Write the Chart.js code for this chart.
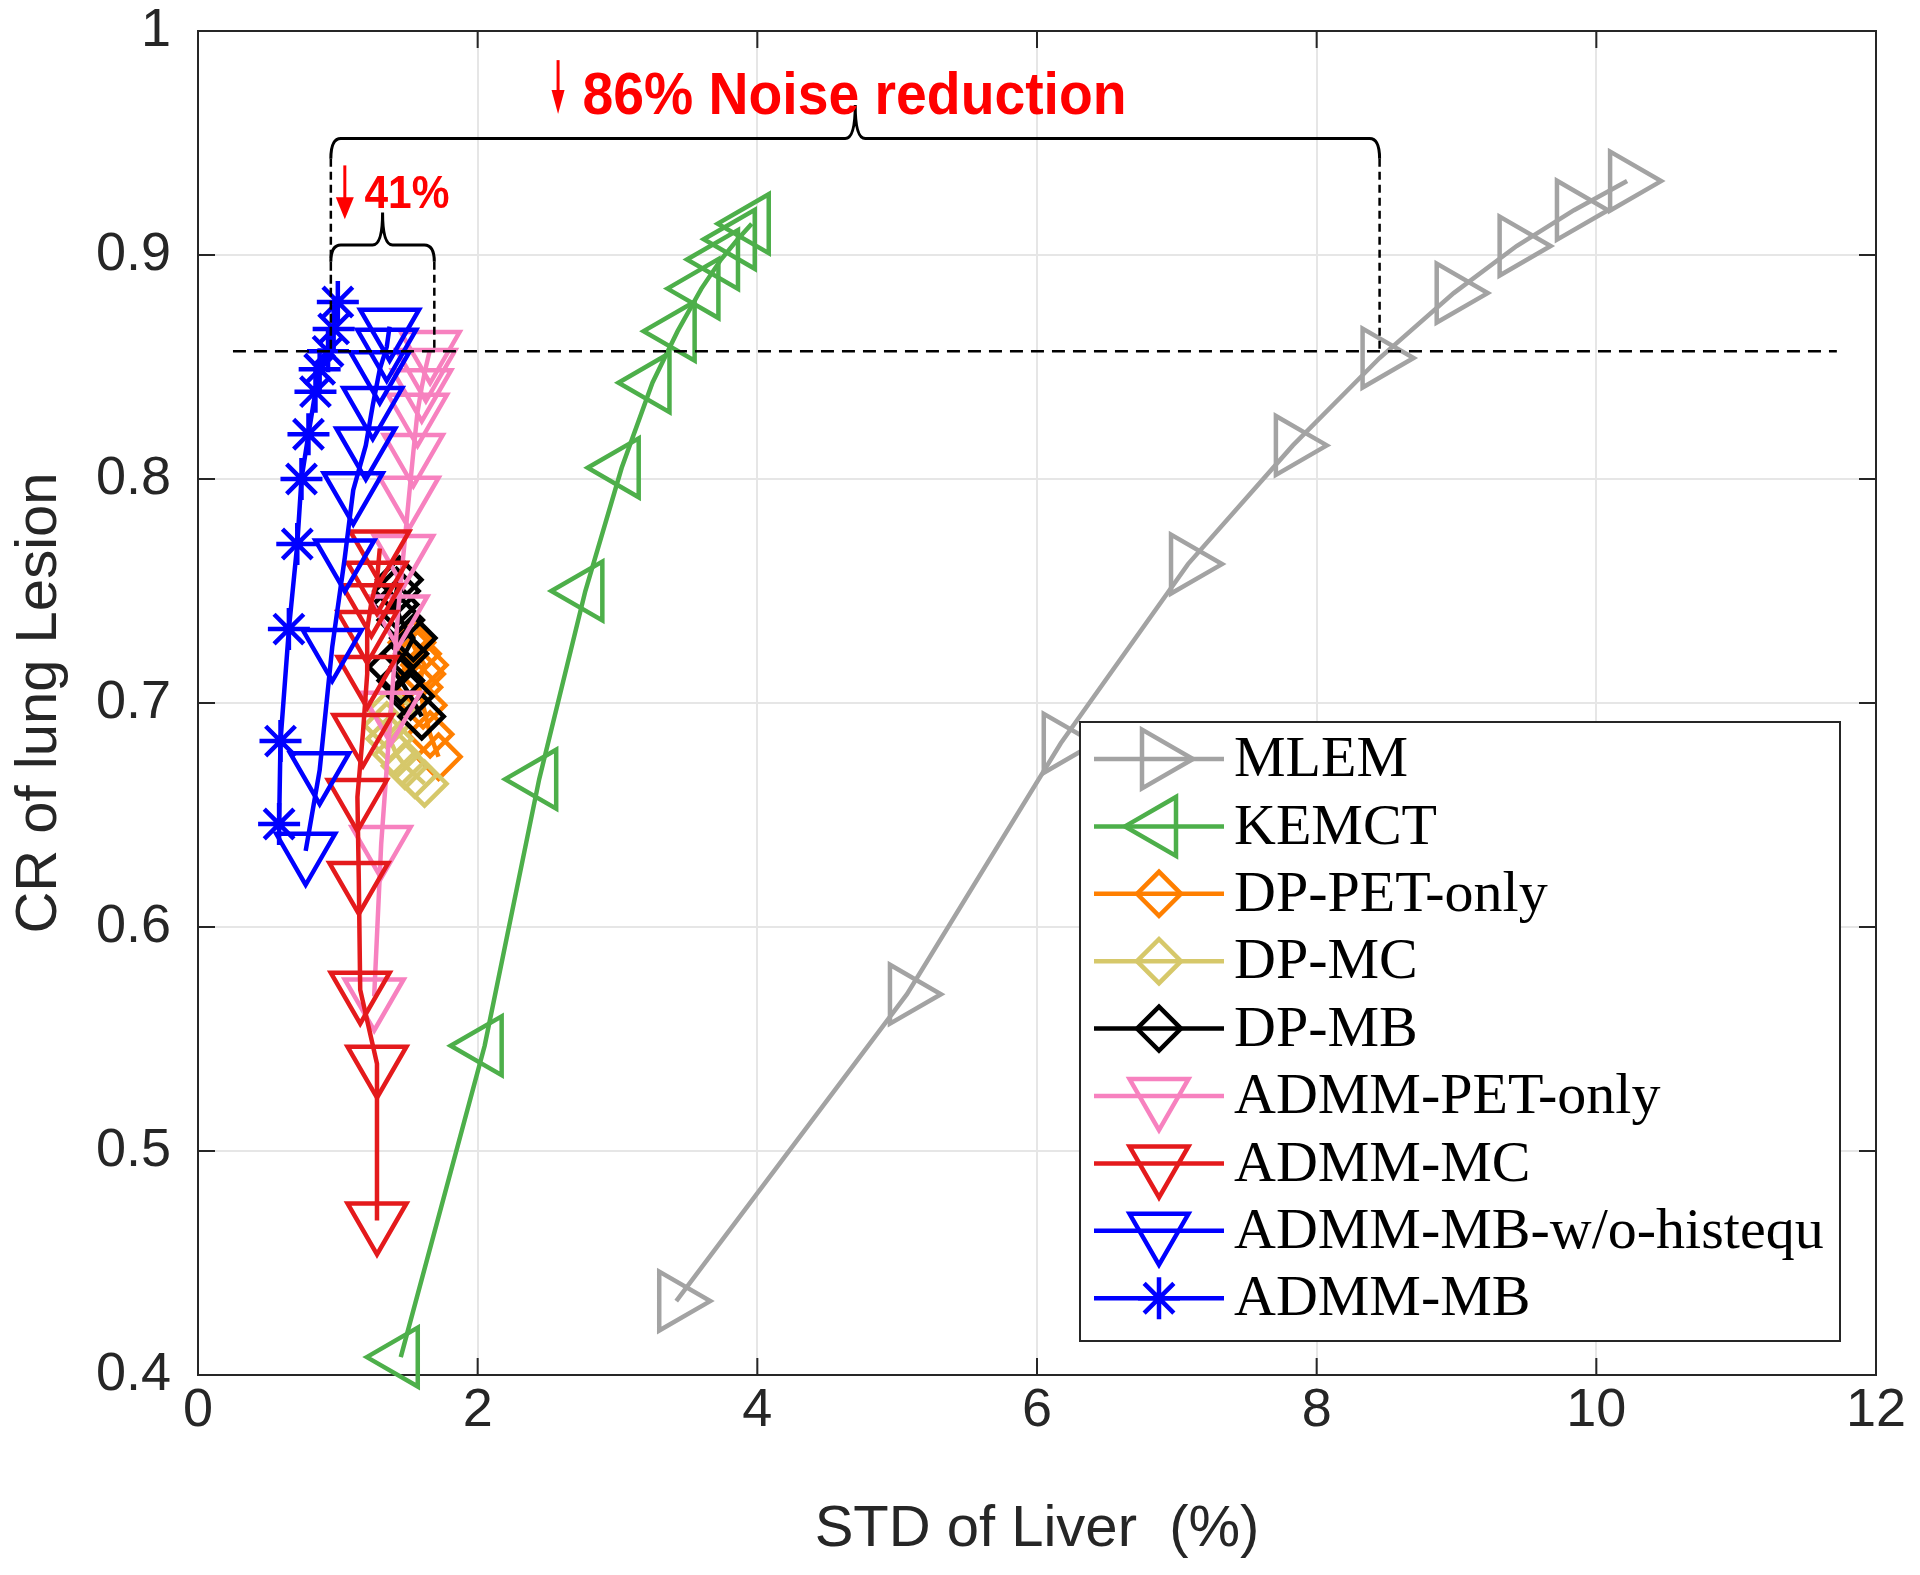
<!DOCTYPE html>
<html>
<head>
<meta charset="utf-8">
<script src="https://cdn.jsdelivr.net/npm/chart.js@4.4.1/dist/chart.umd.min.js"></script>
<style>
  html, body { margin: 0; padding: 0; background: #fff; }
  canvas { display: block; }
</style>
</head>
<body>
<canvas id="chart" width="1920" height="1575"></canvas>
<script>
// Axis ticks
const xTicks = [0, 2, 4, 6, 8, 10, 12];
const yTicks = [0.4, 0.5, 0.6, 0.7, 0.8, 0.9, 1];

// Series values (x = STD of liver %, y = CR of lung lesion)
const mlemX = [3.42, 5.07, 6.17, 7.08, 7.83, 8.45, 8.98, 9.43, 9.84, 10.22];
const mlemY = [0.433, 0.570, 0.682, 0.762, 0.815, 0.854, 0.883, 0.904, 0.920, 0.933];

const kemctX = [1.45, 2.05, 2.44, 2.77, 3.03, 3.25, 3.43, 3.60, 3.74, 3.86, 3.96];
const kemctY = [0.408, 0.547, 0.666, 0.750, 0.805, 0.843, 0.866, 0.885, 0.898, 0.907, 0.914];

const dpPetX = [1.72, 1.66, 1.61, 1.58, 1.60, 1.62, 1.57, 1.53];
const dpPetY = [0.676, 0.686, 0.699, 0.707, 0.713, 0.717, 0.722, 0.727];

const dpMcX = [1.62, 1.55, 1.48, 1.42, 1.37, 1.35, 1.38];
const dpMcY = [0.664, 0.668, 0.672, 0.677, 0.684, 0.690, 0.697];

const dpMbX = [1.60, 1.52, 1.45, 1.38, 1.48, 1.54, 1.45, 1.41, 1.42, 1.44];
const dpMbY = [0.694, 0.703, 0.710, 0.716, 0.722, 0.729, 0.737, 0.744, 0.750, 0.755];

const admmPetX = [1.26, 1.31, 1.38, 1.43, 1.47, 1.51, 1.54, 1.57, 1.60, 1.63, 1.66];
const admmPetY = [0.569, 0.637, 0.697, 0.740, 0.767, 0.793, 0.812, 0.830, 0.841, 0.850, 0.858];

const admmMcX = [1.28, 1.28, 1.16, 1.15, 1.14, 1.18, 1.21, 1.21, 1.24, 1.28, 1.30];
const admmMcY = [0.469, 0.539, 0.572, 0.621, 0.658, 0.687, 0.713, 0.733, 0.745, 0.755, 0.769];

const admmMbNoHistX = [0.77, 0.87, 0.96, 1.05, 1.11, 1.20, 1.25, 1.30, 1.35, 1.37];
const admmMbNoHistY = [0.634, 0.670, 0.725, 0.765, 0.795, 0.815, 0.833, 0.849, 0.859, 0.868];

const admmMbX = [0.58, 0.59, 0.65, 0.71, 0.74, 0.79, 0.84, 0.87, 0.93, 0.97, 1.00];
const admmMbY = [0.646, 0.683, 0.733, 0.771, 0.800, 0.820, 0.839, 0.849, 0.857, 0.867, 0.879];

// Annotation geometry in data units
const refLevel = 0.857;
const refLineX = [0.25, 11.72];
const bigBrace = { x0: 0.95, x1: 8.45, mid: 4.70, yLine: 0.952, yTip: 0.967, yHook: 0.943 };
const smallBrace = { x0: 0.95, x1: 1.69, mid: 1.32, yLine: 0.9045, yTip: 0.919, yHook: 0.897 };

const series = [
    { name: 'MLEM', xs: mlemX, ys: mlemY, color: '#a3a3a3', marker: 'triangle', rot: 90, r: 34 },
    { name: 'KEMCT', xs: kemctX, ys: kemctY, color: '#4daf4a', marker: 'triangle', rot: 270, r: 34 },
    { name: 'DP-PET-only', xs: dpPetX, ys: dpPetY, color: '#ff7f00', marker: 'rectRot', rot: 0, r: 22 },
    { name: 'DP-MC', xs: dpMcX, ys: dpMcY, color: '#d6c86a', marker: 'rectRot', rot: 0, r: 22 },
    { name: 'DP-MB', xs: dpMbX, ys: dpMbY, color: '#000000', marker: 'rectRot', rot: 0, r: 22 },
    { name: 'ADMM-PET-only', xs: admmPetX, ys: admmPetY, color: '#f781bf', marker: 'triangle', rot: 180, r: 34 },
    { name: 'ADMM-MC', xs: admmMcX, ys: admmMcY, color: '#e41a1c', marker: 'triangle', rot: 180, r: 34 },
    { name: 'ADMM-MB-w/o-histequ', xs: admmMbNoHistX, ys: admmMbNoHistY, color: '#0000ff', marker: 'triangle', rot: 180, r: 34 },
    { name: 'ADMM-MB', xs: admmMbX, ys: admmMbY, color: '#0000ff', marker: 'star', rot: 0, r: 21 },
];

const LINE_W = 4.5;
const AXIS_COLOR = '#262626';
const SANS = '"Liberation Sans", Arial, sans-serif';

const datasets = series.map((s, i) => ({
    label: s.name,
    data: s.xs.map((x, k) => ({ x: x, y: s.ys[k] })),
    showLine: true,
    borderColor: s.color,
    backgroundColor: 'rgba(0,0,0,0)',
    borderWidth: LINE_W,
    pointStyle: s.marker,
    pointRotation: s.rot,
    pointRadius: s.r,
    pointBorderWidth: LINE_W,
    pointBorderColor: s.color,
    pointBackgroundColor: 'rgba(0,0,0,0)',
    tension: 0,
    clip: false,
    order: series.length - i, // later series on top, like MATLAB
}));

// Box frame and inward ticks
const axesFrame = {
    id: 'axesFrame',
    beforeDatasetsDraw(chart) {
        const { ctx, chartArea: a, scales: { x, y } } = chart;
        const tl = 17;
        ctx.save();
        ctx.strokeStyle = AXIS_COLOR;
        ctx.lineWidth = 2;
        ctx.strokeRect(a.left, a.top, a.right - a.left, a.bottom - a.top);
        ctx.beginPath();
        xTicks.forEach((v) => {
            const px = x.getPixelForValue(v);
            ctx.moveTo(px, a.bottom); ctx.lineTo(px, a.bottom - tl);
            ctx.moveTo(px, a.top); ctx.lineTo(px, a.top + tl);
        });
        yTicks.forEach((v) => {
            const py = y.getPixelForValue(v);
            ctx.moveTo(a.left, py); ctx.lineTo(a.left + tl, py);
            ctx.moveTo(a.right, py); ctx.lineTo(a.right - tl, py);
        });
        ctx.stroke();
        ctx.restore();
    }
};

function drawBrace(ctx, x, y, b) {
    const x0 = x.getPixelForValue(b.x0);
    const x1 = x.getPixelForValue(b.x1);
    const xm = x.getPixelForValue(b.mid);
    const yl = y.getPixelForValue(b.yLine);
    const yt = y.getPixelForValue(b.yTip);
    const yh = y.getPixelForValue(b.yHook);
    const r = 10;
    ctx.beginPath();
    ctx.moveTo(x0, yh);
    ctx.quadraticCurveTo(x0, yl, x0 + r, yl);
    ctx.lineTo(xm - r, yl);
    ctx.quadraticCurveTo(xm, yl, xm, yt);
    ctx.quadraticCurveTo(xm, yl, xm + r, yl);
    ctx.lineTo(x1 - r, yl);
    ctx.quadraticCurveTo(x1, yl, x1, yh);
    ctx.stroke();
}

function drawArrow(ctx, px, yTop, yBot, head) {
    ctx.beginPath();
    ctx.moveTo(px, yTop);
    ctx.lineTo(px, yBot - head.h + 2);
    ctx.stroke();
    ctx.beginPath();
    ctx.moveTo(px - head.w / 2, yBot - head.h);
    ctx.lineTo(px + head.w / 2, yBot - head.h);
    ctx.lineTo(px, yBot);
    ctx.closePath();
    ctx.fill();
}

// Reference level, braces and noise reduction labels
const annotations = {
    id: 'annotations',
    afterDatasetsDraw(chart) {
        const { ctx, scales: { x, y } } = chart;
        const yRef = y.getPixelForValue(refLevel);
        ctx.save();
        ctx.strokeStyle = '#000';
        ctx.lineWidth = 2.5;
        ctx.setLineDash([13, 8]);
        ctx.beginPath();
        ctx.moveTo(x.getPixelForValue(refLineX[0]), yRef);
        ctx.lineTo(x.getPixelForValue(refLineX[1]), yRef);
        ctx.stroke();

        ctx.setLineDash([8, 5]);
        ctx.beginPath();
        [bigBrace, smallBrace].forEach((b) => {
            [b.x0, b.x1].forEach((xv) => {
                const px = x.getPixelForValue(xv);
                ctx.moveTo(px, y.getPixelForValue(b.yHook));
                ctx.lineTo(px, yRef);
            });
        });
        ctx.stroke();
        ctx.setLineDash([]);

        ctx.lineWidth = 3;
        drawBrace(ctx, x, y, bigBrace);
        drawBrace(ctx, x, y, smallBrace);

        // red labels
        ctx.fillStyle = '#ff0000';
        ctx.strokeStyle = '#ff0000';
        ctx.lineWidth = 3;
        drawArrow(ctx, x.getPixelForValue(2.575), y.getPixelForValue(0.987), y.getPixelForValue(0.963), { w: 13, h: 24 });
        drawArrow(ctx, x.getPixelForValue(1.05), y.getPixelForValue(0.940), y.getPixelForValue(0.916), { w: 18, h: 22 });

        ctx.textAlign = 'left';
        ctx.textBaseline = 'alphabetic';
        ctx.font = 'bold 60px ' + SANS;
        ctx.fillText('86% Noise reduction', x.getPixelForValue(2.75), y.getPixelForValue(0.963), 544);
        ctx.font = 'bold 46px ' + SANS;
        ctx.fillText('41%', x.getPixelForValue(1.19), y.getPixelForValue(0.921), 85);
        ctx.restore();
    }
};

// Legend box inside the axes (lower right)
const boxLegend = {
    id: 'boxLegend',
    afterDraw(chart) {
        const ctx = chart.ctx;
        const box = { left: 1080, top: 722, width: 760, height: 619 };
        const rowTop = 759;
        const rowStep = 67.4;
        ctx.save();
        ctx.fillStyle = '#ffffff';
        ctx.fillRect(box.left, box.top, box.width, box.height);
        ctx.strokeStyle = AXIS_COLOR;
        ctx.lineWidth = 2;
        ctx.strokeRect(box.left, box.top, box.width, box.height);

        series.forEach((s, i) => {
            const cy = rowTop + i * rowStep;
            ctx.strokeStyle = s.color;
            ctx.fillStyle = 'rgba(0,0,0,0)';
            ctx.lineWidth = LINE_W;
            ctx.beginPath();
            ctx.moveTo(1094, cy);
            ctx.lineTo(1224, cy);
            ctx.stroke();
            Chart.helpers.drawPoint(ctx, {
                pointStyle: s.marker,
                rotation: s.rot,
                radius: s.r,
                borderWidth: LINE_W,
            }, 1159, cy);

            ctx.fillStyle = '#000';
            ctx.font = '58px "Liberation Serif", "Times New Roman", serif';
            ctx.textAlign = 'left';
            ctx.textBaseline = 'middle';
            ctx.fillText(s.name, 1234, cy + 2);
        });
        ctx.restore();
    }
};

new Chart(document.getElementById('chart'), {
    type: 'scatter',
    data: { datasets },
    options: {
        responsive: false,
        animation: false,
        layout: { autoPadding: false, padding: { top: 31, right: 44, left: 0, bottom: 0 } },
        plugins: {
            legend: { display: false },
            tooltip: { enabled: false },
        },
        scales: {
            x: {
                type: 'linear',
                min: 0,
                max: 12,
                afterBuildTicks: (scale) => { scale.ticks = xTicks.map((v) => ({ value: v })); },
                afterFit: (scale) => {
                    scale.height = 200;
                    scale.paddingLeft = 0;
                    scale.paddingRight = 0;
                },
                grid: { color: '#e6e6e6', lineWidth: 2, drawTicks: false },
                border: { display: false },
                ticks: {
                    color: AXIS_COLOR,
                    padding: 4,
                    font: { family: SANS, size: 54 },
                    maxRotation: 0,
                    callback: (v) => String(v),
                },
                title: {
                    display: true,
                    text: 'STD of Liver  (%)',
                    color: AXIS_COLOR,
                    font: { family: SANS, size: 58, lineHeight: 1 },
                    padding: { top: 0, bottom: 16 },
                },
            },
            y: {
                type: 'linear',
                min: 0.4,
                max: 1,
                afterBuildTicks: (scale) => { scale.ticks = yTicks.map((v) => ({ value: v })); },
                afterFit: (scale) => {
                    scale.width = 198;
                    scale.paddingTop = 0;
                    scale.paddingBottom = 0;
                },
                grid: { color: '#e6e6e6', lineWidth: 2, drawTicks: false },
                border: { display: false },
                ticks: {
                    color: AXIS_COLOR,
                    padding: 27,
                    font: { family: SANS, size: 54 },
                    callback: (v) => (v === 1 ? '1' : v.toFixed(1)),
                },
                title: {
                    display: true,
                    text: 'CR of lung Lesion',
                    color: AXIS_COLOR,
                    font: { family: SANS, size: 58, lineHeight: 1 },
                    padding: { top: 11, bottom: 0 },
                },
            },
        },
    },
    plugins: [axesFrame, annotations, boxLegend],
});
</script>
</body>
</html>
